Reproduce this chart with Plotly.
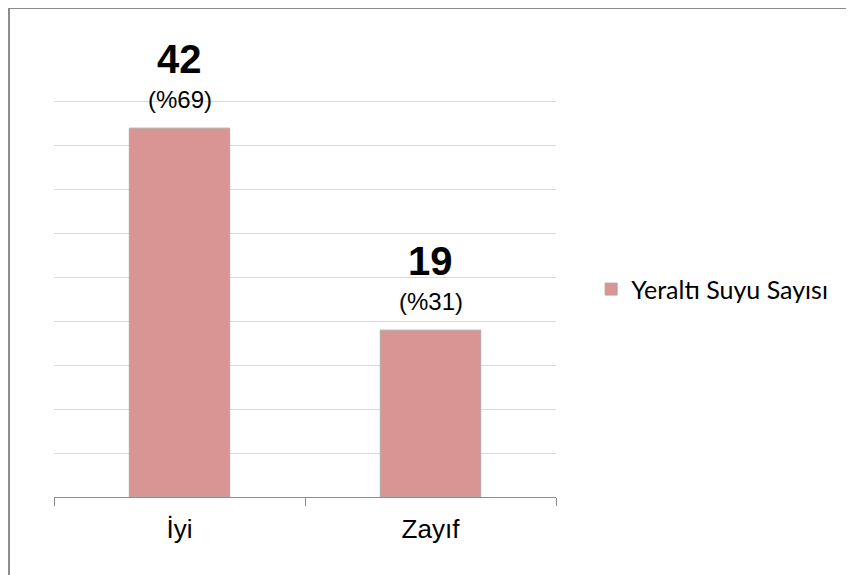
import plotly.graph_objects as go

# veriler
kategoriler = ["İyi", "Zayıf"]
sayilar = [42, 19]
yuzdeler = ["(%69)", "(%31)"]
seri_adi = "Yeraltı Suyu Sayısı"

fig = go.Figure()
fig.add_trace(go.Bar(
    x=kategoriler,
    y=sayilar,
    name=seri_adi,
    marker=dict(color="#d99594", line=dict(color="#b3a6a6", width=1)),
    showlegend=True,
))

# etiketler: sayi (kalin) ve yuzde
for k, s, p in zip(kategoriler, sayilar, yuzdeler):
    fig.add_annotation(x=k, y=s, text="<b>%d</b>" % s, showarrow=False,
                       yanchor="middle", yshift=69,
                       font=dict(family="Liberation Sans", size=40, color="#000000"))
    fig.add_annotation(x=k, y=s, text=p, showarrow=False,
                       yanchor="middle", yshift=29,
                       font=dict(family="Liberation Sans", size=24, color="#000000"))

# cerceve (sol ve ust kenar)
fig.add_shape(type="line", xref="paper", yref="paper", x0=-0.0906, x1=-0.0906,
              y0=-0.3, y1=1.3, line=dict(color="#8c8c8c", width=3))
fig.add_shape(type="line", xref="paper", yref="paper", x0=-0.0906, x1=1.7,
              y0=1.2116, y1=1.2116, line=dict(color="#8c8c8c", width=3))

fig.update_layout(
    width=846, height=567,
    margin=dict(l=46, r=298, t=85, b=78),
    paper_bgcolor="white", plot_bgcolor="white",
    bargap=0.6,
    font=dict(family="Liberation Sans", size=26, color="#000000"),
    legend=dict(x=1.07, y=0.514, xanchor="left", yanchor="middle",
                font=dict(family="Lato", size=25, color="#000000"),
                itemwidth=30, bgcolor="rgba(0,0,0,0)"),
    xaxis=dict(showline=True, linecolor="#8c8c8c", linewidth=1,
               ticks="outside", tickson="boundaries", ticklen=8,
               tickcolor="#8c8c8c", showgrid=False, ticklabelstandoff=9,
               tickfont=dict(family="Liberation Sans", size=26)),
    yaxis=dict(range=[0, 46], dtick=5, showticklabels=False,
               showgrid=True, gridcolor="#d9d9d9", gridwidth=1,
               zeroline=False, showline=False, ticks=""),
)

fig.write_html("out.html")
